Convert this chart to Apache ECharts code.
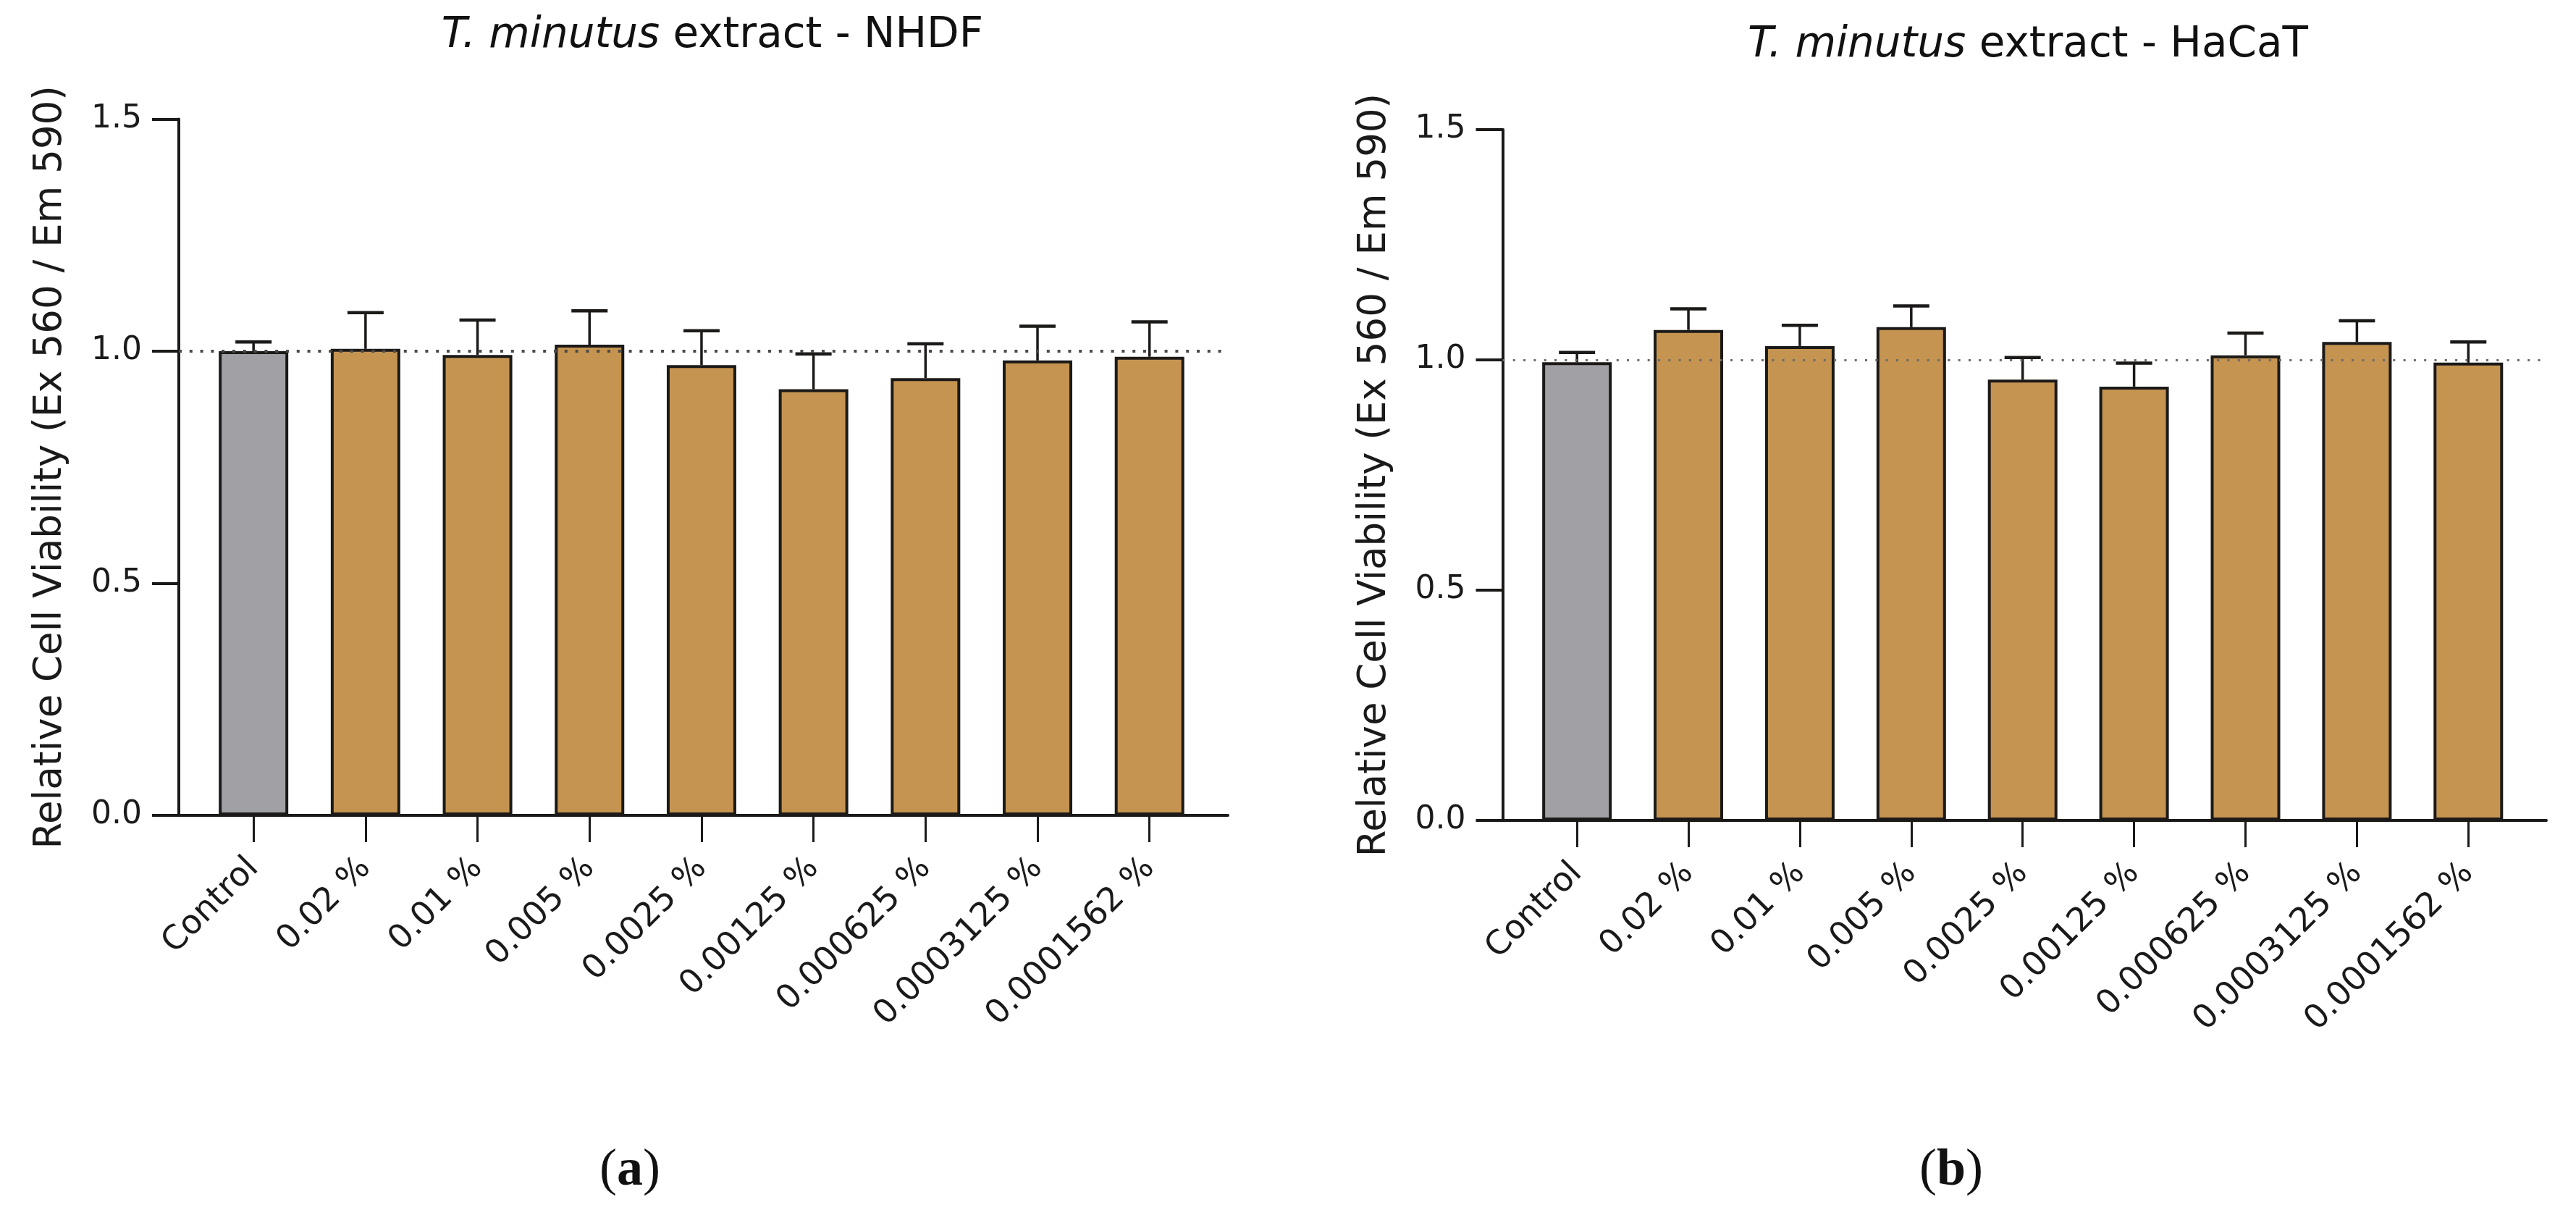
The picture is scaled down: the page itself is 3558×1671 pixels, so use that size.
<!DOCTYPE html>
<html>
<head>
<meta charset="utf-8">
<script src="https://cdn.jsdelivr.net/npm/echarts@6/dist/echarts.min.js"></script>
<style>
html,body{margin:0;padding:0;background:#fff;}
#chart{width:3558px;height:1671px;}
</style>
</head>
<body>
<div id="chart"></div>
<script>
// ---- data ----
const categories = ['Control','0.02 %','0.01 %','0.005 %','0.0025 %','0.00125 %','0.000625 %','0.0003125 %','0.0001562 %'];
const nhdfMean = [1.000, 1.005, 0.992, 1.014, 0.970, 0.918, 0.942, 0.980, 0.988];
const nhdfSD   = [0.020, 0.078, 0.075, 0.073, 0.074, 0.076, 0.074, 0.074, 0.075];
const hacatMean = [0.995, 1.065, 1.030, 1.071, 0.957, 0.942, 1.010, 1.039, 0.994];
const hacatSD   = [0.021, 0.046, 0.045, 0.046, 0.048, 0.051, 0.048, 0.046, 0.045];
const yTickValues = [0, 0.5, 1.0, 1.5];
const refValue = 1.0;
const titleNHDF = ['T. minutus', ' extract - NHDF'];
const titleHaCaT = ['T. minutus', ' extract - HaCaT'];
const yName = 'Relative Cell Viability (Ex 560 / Em 590)';

// ---- styles ----
const INK = '#1c1a18';
const GOLD = '#C49450';
const GRAY = '#A1A0A5';
const FONT = 'DejaVu Sans';
const catIdx = categories.map((_, i) => i);

const chart = echarts.init(document.getElementById('chart'), null, {renderer: 'canvas'});

function xAxis(gridIndex) {
  return {
    type: 'value', gridIndex: gridIndex, min: -0.667, max: 8.7,
    axisLine: {show: true, onZero: true, lineStyle: {color: INK, width: 4}},
    axisTick: {show: true, customValues: catIdx, length: 37, lineStyle: {color: INK, width: 3}},
    axisLabel: {
      show: true, customValues: catIdx, rotate: 45, margin: 66,
      fontFamily: FONT, fontSize: 46, color: '#1a1a1a',
      formatter: v => categories[Math.round(v)] || ''
    },
    splitLine: {show: false}
  };
}
function yAxis(gridIndex) {
  return {
    type: 'value', gridIndex: gridIndex, min: 0, max: 1.5, interval: 0.5,
    name: yName, nameLocation: 'middle', nameGap: 150, nameRotate: 90,
    nameTextStyle: {fontFamily: FONT, fontSize: 53, color: '#1a1a1a'},
    axisLine: {show: true, onZero: false, lineStyle: {color: INK, width: 4}},
    axisTick: {show: true, length: 37, lineStyle: {color: INK, width: 4}},
    axisLabel: {
      show: true, margin: 51, fontFamily: FONT, fontSize: 44, color: '#1a1a1a',
      formatter: v => yTickValues.indexOf(v) >= 0 ? v.toFixed(1) : ''
    },
    splitLine: {show: false}
  };
}
function barSeries(idx, means) {
  return {
    type: 'bar', xAxisIndex: idx, yAxisIndex: idx, barWidth: 96, z: 2,
    data: means.map((m, i) => ({value: [i, m], itemStyle: {color: i === 0 ? GRAY : GOLD}})),
    itemStyle: {borderColor: INK, borderWidth: 4},
    silent: true
  };
}
function errSeries(idx, means, sds, refStyle) {
  return {
    type: 'custom', xAxisIndex: idx, yAxisIndex: idx, z: 4, silent: true,
    data: means.map((m, i) => [i, m, sds[i]]),
    renderItem: function (params, api) {
      const x = api.value(0), m = api.value(1), e = api.value(2);
      const p0 = api.coord([x, m]);
      const p1 = api.coord([x, m + e]);
      const half = 25;
      return {type: 'group', children: [
        {type: 'line', shape: {x1: p0[0], y1: p0[1], x2: p1[0], y2: p1[1]}, style: {stroke: INK, lineWidth: 3.5}},
        {type: 'line', shape: {x1: p1[0] - half, y1: p1[1], x2: p1[0] + half, y2: p1[1]}, style: {stroke: INK, lineWidth: 4.5}}
      ]};
    },
    markLine: {
      silent: true, symbol: ['none', 'none'], label: {show: false}, z: 5,
      lineStyle: refStyle,
      data: [{yAxis: refValue}]
    }
  };
}

function titleText(parts, x, y) {
  return {
    type: 'text', x: x, y: y, z: 10,
    style: {
      text: '{i|' + parts[0] + '}{n|' + parts[1] + '}',
      align: 'center', verticalAlign: 'middle',
      rich: {
        i: {fontFamily: FONT, fontSize: 58, fontStyle: 'italic', fill: '#111'},
        n: {fontFamily: FONT, fontSize: 58, fill: '#111'}
      }
    }
  };
}
function panelLabel(letter, x, y) {
  return {
    type: 'text', x: x, y: y, z: 10,
    style: {
      text: '{p|(}{b|' + letter + '}{p|)}',
      align: 'center', verticalAlign: 'middle',
      rich: {
        p: {fontFamily: 'Liberation Serif', fontSize: 72, fill: '#111'},
        b: {fontFamily: 'Liberation Serif', fontSize: 72, fontWeight: 'bold', fill: '#111'}
      }
    }
  };
}

const option = {
  backgroundColor: '#ffffff',
  animation: false,
  grid: [
    {left: 247, top: 164.5, width: 1449, height: 961.5, containLabel: false},
    {left: 2075.5, top: 179, width: 1441.5, height: 954, containLabel: false}
  ],
  xAxis: [xAxis(0), xAxis(1)],
  yAxis: [yAxis(0), yAxis(1)],
  series: [
    barSeries(0, nhdfMean),
    errSeries(0, nhdfMean, nhdfSD, {type: [4, 10.8], color: '#4a4a4a', width: 4}),
    barSeries(1, hacatMean),
    errSeries(1, hacatMean, hacatSD, {type: [3, 11.3], color: '#6a6a6a', width: 3})
  ],
  graphic: [
    titleText(titleNHDF, 984, 50),
    titleText(titleHaCaT, 2801, 63),
    panelLabel('a', 870, 1617),
    panelLabel('b', 2695, 1617)
  ]
};
chart.setOption(option);
</script>
</body>
</html>
